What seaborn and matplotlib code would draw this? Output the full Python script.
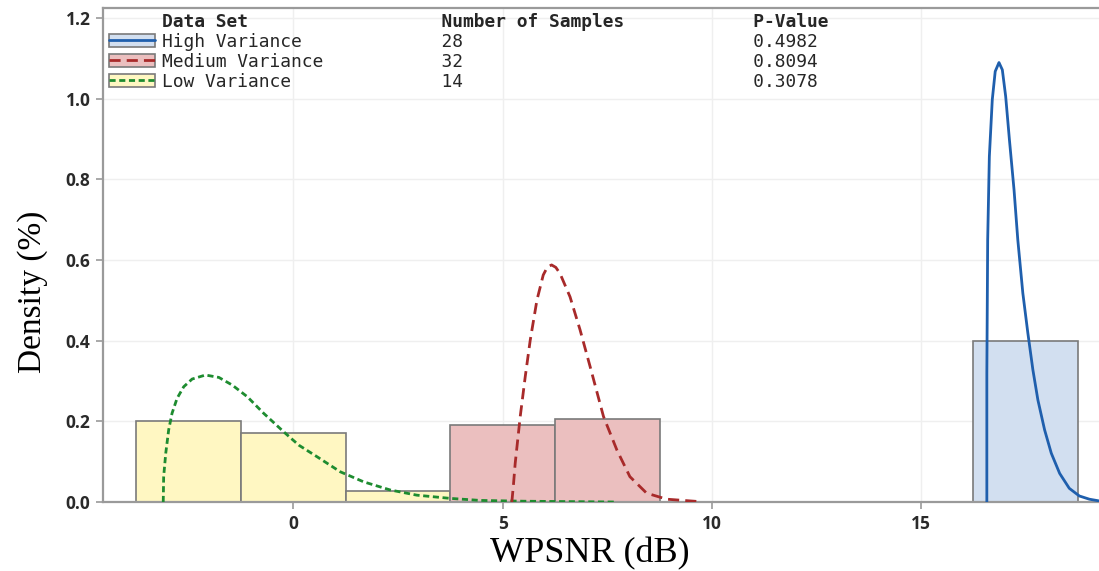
import seaborn as sns
import numpy as np
from matplotlib import pyplot as plt
from matplotlib.patches import Patch
from matplotlib.lines import Line2D

# histogram bins (width 2.5 dB) and density heights
low_edges = [-3.75, -1.25, 1.25, 3.75]
low_heights = [0.200, 0.171, 0.027]
med_edges = [3.75, 6.25, 8.75]
med_heights = [0.190, 0.206]
high_edges = [16.25, 18.75]
high_heights = [0.400]

# fitted density curves
low_x = [-3.11, -3.10, -3.05, -2.98, -2.90, -2.78, -2.62, -2.42, -2.10, -1.78, -1.46,
         -1.10, -0.71, -0.23, 0.13, 0.57, 1.12, 1.68, 2.31, 2.95, 3.75, 4.46, 5.5, 6.6, 7.7]
low_y = [0.0, 0.063, 0.121, 0.179, 0.220, 0.257, 0.286, 0.305, 0.315, 0.309, 0.290,
         0.261, 0.220, 0.174, 0.141, 0.112, 0.075, 0.050, 0.030, 0.017, 0.009, 0.004, 0.002, 0.001, 0.0]
med_x = [5.22, 5.26, 5.30, 5.42, 5.54, 5.66, 5.82, 5.97, 6.07, 6.17, 6.27, 6.37, 6.61,
         6.85, 7.09, 7.41, 7.73, 8.04, 8.44, 8.92, 9.71]
med_y = [0.0, 0.045, 0.096, 0.212, 0.311, 0.402, 0.501, 0.563, 0.583, 0.588, 0.582, 0.567, 0.509,
         0.427, 0.336, 0.212, 0.129, 0.063, 0.022, 0.007, 0.001]
high_x = [16.57, 16.57, 16.59, 16.63, 16.70, 16.77, 16.86, 16.94, 17.02, 17.11, 17.22,
          17.31, 17.43, 17.55, 17.67, 17.79, 17.95, 18.11, 18.31, 18.54, 18.78, 19.02, 19.24]
high_y = [0.0, 0.319, 0.650, 0.857, 0.998, 1.068, 1.090, 1.072, 1.006, 0.898, 0.774,
          0.650, 0.518, 0.419, 0.328, 0.253, 0.179, 0.121, 0.071, 0.034, 0.015, 0.007, 0.003]

names = ["High Variance", "Medium Variance", "Low Variance"]
samples = [28, 32, 14]
pvalues = ["0.4982", "0.8094", "0.3078"]

sns.set_theme(style='whitegrid')
fig = plt.figure(figsize=(10.99, 5.71), dpi=100)
ax = fig.add_axes([0.0937, 0.1208, 0.9063, 0.865])

edge = '#7a7a7a'
fills = ['#d2dff0', '#ebbfbf', '#fff7c2']
lines = ['#1f5fad', '#a82a2a', '#1e8c30']
styles = ['-', (0, (4, 2.2)), (0, (2.2, 1.3))]

for e, h, c in [(low_edges, low_heights, fills[2]), (med_edges, med_heights, fills[1]),
                (high_edges, high_heights, fills[0])]:
  centers = [(e[i] + e[i + 1]) / 2 for i in range(len(h))]
  sns.histplot(x=centers, weights=h, bins=e, stat='count', color=c, alpha=1,
               edgecolor=edge, linewidth=1.2, ax=ax, zorder=2)

for xs, ys, c, s in [(low_x, low_y, lines[2], styles[2]), (med_x, med_y, lines[1], styles[1]),
                     (high_x, high_y, lines[0], styles[0])]:
  sns.lineplot(x=xs, y=ys, color=c, linestyle=s, linewidth=2, sort=False,
               estimator=None, ax=ax, zorder=3)

ax.set_xlim(-4.55, 19.25)
ax.set_ylim(0, 1.225)
ax.set_xticks([0, 5, 10, 15])
ax.set_yticks([0.0, 0.2, 0.4, 0.6, 0.8, 1.0, 1.2])
ax.set_yticklabels(['0.0', '0.2', '0.4', '0.6', '0.8', '1.0', '1.2'])
ax.grid(True, color='#efefef', linewidth=1)
ax.set_axisbelow(True)
for side in ['left', 'bottom', 'top']:
  ax.spines[side].set_color('#9a9a9a')
  ax.spines[side].set_linewidth(1.6)
ax.spines['right'].set_visible(False)
ax.tick_params(axis='both', direction='out', length=5, width=1.2, color='#9a9a9a',
               labelsize=12.5, labelcolor='#2a2a2a', pad=4, bottom=True, left=True)
for lbl in ax.get_xticklabels() + ax.get_yticklabels():
  lbl.set_fontfamily('Open Sans')
  lbl.set_fontweight('bold')

ax.set_xlabel('WPSNR (dB)', fontfamily='Liberation Serif', fontsize=26, color='black', labelpad=3)
ax.set_ylabel('Density (%)', fontfamily='Liberation Serif', fontsize=24, color='black', labelpad=13)
ax.xaxis.label.set_x(0.489)
ax.yaxis.label.set_y(0.425)

# legend laid out as a small table
handles = [Patch(visible=False)]
labels = ['%-26s%-29s%s' % ('Data Set', 'Number of Samples', 'P-Value')]
for i in range(3):
  handles.append((Patch(facecolor=fills[i], edgecolor=edge, linewidth=1.2),
                  Line2D([], [], color=lines[i], linestyle=styles[i], linewidth=2)))
  labels.append('%-26s%-29s%s' % (names[i], samples[i], pvalues[i]))
leg = ax.legend(handles, labels, loc='upper left', bbox_to_anchor=(0.004, 0.994),
                frameon=False, prop={'family': 'DejaVu Sans Mono', 'size': 12.9},
                handlelength=2.57, handleheight=0.75, handletextpad=0.4,
                labelspacing=0.11, borderpad=0.1, borderaxespad=0)
leg.get_texts()[0].set_fontweight('bold')

plt.savefig('out.png', dpi=100)
